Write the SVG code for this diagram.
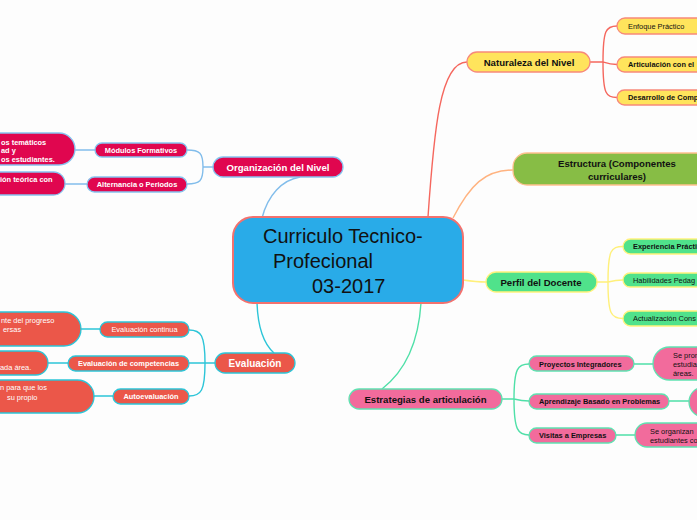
<svg xmlns="http://www.w3.org/2000/svg" width="697" height="520" viewBox="0 0 697 520">
<style>
text{font-family:"Liberation Sans",Arial,sans-serif;}
.c{fill:none;stroke-width:1.4;}
.b{font-weight:bold;}
.m{text-anchor:middle;}
.s7{font-size:7.4px;}
.s9{font-size:9.6px;}
.w{fill:#ffffff;}
.k{fill:#111111;}
.org{fill:#e0064f;stroke:#86c3ef;stroke-width:1.3;}
.eva{fill:#eb5749;stroke:#2cc5d8;stroke-width:1.3;}
.nat{fill:#ffe45c;stroke:#f7897a;stroke-width:1.3;}
.est{fill:#87bd45;stroke:#ffc08f;stroke-width:1.3;}
.per{fill:#50e28b;stroke:#fff27c;stroke-width:1.3;}
.str{fill:#f26b9c;stroke:#5fe2b1;stroke-width:1.3;}
</style>
<rect width="697" height="520" fill="#fdfdfd"/>
<g id="connectors">
  <path class="c" stroke="#82bdeb" d="M262,218 C268,195 282,180 300,177"/>
  <path class="c" stroke="#82bdeb" d="M213,167 H203 M203,167 C203,153 200,150 187,150 M203,167 C203,181 200,184 187,184 M75,150 H95 M65,184 H87"/>
  <path class="c" stroke="#2cc5d8" d="M257,303 C258,330 265,345 274,353"/>
  <path class="c" stroke="#2cc5d8" d="M215,363 H189 M205,363 C205,335 201,330 189,330 M205,363 C205,391 201,396 189,396 M81,329 H100 M48,363 H68 M94,396 H113"/>
  <path class="c" stroke="#f5675e" d="M428,217 C434,130 440,62 467,62"/>
  <path class="c" stroke="#f5675e" d="M590,62 H603 M603,62 C603,30 606,26 617,26 M603,62 C606,63 610,64.5 617,64.5 M603,62 C603,94 606,97.5 617,97.5"/>
  <path class="c" stroke="#ffb380" d="M453,218 C470,185 485,170 513,170"/>
  <path class="c" stroke="#fff07a" d="M463,280 C470,281 478,282 486,282"/>
  <path class="c" stroke="#fff07a" d="M597,282 H608 M608,282 C608,250 611,246.5 623,246.5 M608,282 C612,281 617,280 623,280 M608,282 C608,314 611,318.5 623,318.5"/>
  <path class="c" stroke="#4fe0a8" d="M421,303 C418,350 400,375 382,389"/>
  <path class="c" stroke="#4fe0a8" d="M502,399 H514 M514,399 C514,368 518,364 529,364 M514,399 C518,400 523,401 529,401 M514,399 C514,430 518,435 529,435 M634,364 H653 M669,401 H689 M616,435 H635"/>
</g>
<g id="central">
  <rect x="233" y="217" width="230" height="86" rx="20" fill="#29abe8" stroke="#f3716e" stroke-width="2"/>
  <text x="263" y="243" font-size="20" class="k">Curriculo Tecnico-</text>
  <text x="273" y="268" font-size="20" class="k">Profecional</text>
  <text x="312" y="293" font-size="20" class="k">03-2017</text>
</g>
<g id="organizacion">
  <rect class="org" x="213" y="157" width="130" height="20" rx="10"/>
  <text class="w b m s9" x="278" y="170.5">Organización del Nivel</text>
</g>
<g id="modulos">
  <rect class="org" x="95" y="143" width="92" height="14" rx="7"/>
  <text class="w b m s7" x="141" y="152.5">Módulos Formativos</text>
</g>
<g id="alternancia">
  <rect class="org" x="87" y="177" width="100" height="15" rx="7.5"/>
  <text class="w b m s7" x="137" y="187">Alternancia o Periodos</text>
</g>
<g id="modulos-detalle">
  <rect class="org" x="-40" y="133" width="115" height="32" rx="16"/>
  <text class="w b s7" x="1" y="144.5">os temáticos</text>
  <text class="w b s7" x="1" y="153">ad y</text>
  <text class="w b s7" x="1" y="161.5">os estudiantes.</text>
</g>
<g id="alternancia-detalle">
  <rect class="org" x="-40" y="172" width="105" height="23" rx="11.5"/>
  <text class="w b s7" x="0" y="181.5">ión teórica con</text>
</g>
<g id="evaluacion">
  <rect class="eva" x="215" y="353" width="80" height="20" rx="10"/>
  <text class="w b m" font-size="10" x="255" y="366.5">Evaluación</text>
</g>
<g id="continua">
  <rect class="eva" x="100" y="322" width="89" height="15" rx="7.5"/>
  <text class="w m s7" x="144.5" y="332">Evaluación continua</text>
</g>
<g id="competencias">
  <rect class="eva" x="68" y="356" width="121" height="15" rx="7.5"/>
  <text class="w b m s7" x="128.5" y="366">Evaluación de competencias</text>
</g>
<g id="autoevaluacion">
  <rect class="eva" x="113" y="389" width="76" height="15" rx="7.5"/>
  <text class="w b m s7" x="151" y="399">Autoevaluación</text>
</g>
<g id="continua-detalle">
  <rect class="eva" x="-40" y="312" width="121" height="34" rx="17"/>
  <text class="w s7" x="1" y="322.5">nte del progreso</text>
  <text class="w s7" x="3" y="331.5">ersas</text>
</g>
<g id="competencias-detalle">
  <rect class="eva" x="-40" y="351" width="88" height="24" rx="12"/>
  <text class="w s7" x="0" y="369.5">ada área.</text>
</g>
<g id="autoevaluacion-detalle">
  <rect class="eva" x="-40" y="380" width="134" height="33" rx="16.5"/>
  <text class="w s7" x="0" y="390">n para que los</text>
  <text class="w s7" x="7" y="399.5">su propio</text>
</g>
<g id="naturaleza">
  <rect class="nat" x="467" y="52" width="123" height="20" rx="10"/>
  <text class="k b m s9" x="529" y="65.5">Naturaleza del Nivel</text>
</g>
<g id="enfoque">
  <rect class="nat" x="617" y="18" width="100" height="16" rx="8"/>
  <text class="k s7" x="628" y="28.5">Enfoque Práctico</text>
</g>
<g id="articulacion">
  <rect class="nat" x="617" y="57" width="100" height="15" rx="7.5"/>
  <text class="k b s7" x="628" y="67">Articulación con el</text>
</g>
<g id="desarrollo">
  <rect class="nat" x="617" y="90" width="100" height="15" rx="7.5"/>
  <text class="k b s7" x="628" y="100">Desarrollo de Comp</text>
</g>
<g id="estructura">
  <rect class="est" x="513" y="153" width="210" height="32" rx="14"/>
  <text class="k b m s9" x="617" y="167">Estructura (Componentes</text>
  <text class="k b m s9" x="617" y="179.5">curriculares)</text>
</g>
<g id="perfil">
  <rect class="per" x="486" y="272" width="111" height="20" rx="10"/>
  <text class="k b m s9" x="541" y="285.5">Perfil del Docente</text>
</g>
<g id="experiencia">
  <rect class="per" x="623" y="239" width="100" height="15" rx="7.5"/>
  <text class="k b s7" x="633" y="249">Experiencia Prácti</text>
</g>
<g id="habilidades">
  <rect class="per" x="623" y="273" width="100" height="14" rx="7"/>
  <text class="k s7" x="633" y="282.5">Habilidades Pedag</text>
</g>
<g id="actualizacion">
  <rect class="per" x="623" y="311" width="100" height="15" rx="7.5"/>
  <text class="k s7" x="633" y="321">Actualización Cons</text>
</g>
<g id="estrategias">
  <rect class="str" x="349" y="389" width="153" height="20" rx="10"/>
  <text class="k b m s9" x="425.5" y="402.5">Estrategias de articulación</text>
</g>
<g id="proyectos">
  <rect class="str" x="529" y="356" width="105" height="15" rx="7.5"/>
  <text class="k b s7" x="539" y="366.5">Proyectos Integradores</text>
</g>
<g id="aprendizaje">
  <rect class="str" x="529" y="394" width="140" height="15" rx="7.5"/>
  <text class="k b s7" x="539" y="404">Aprendizaje Basado en Problemas</text>
</g>
<g id="visitas">
  <rect class="str" x="529" y="428" width="87" height="15" rx="7.5"/>
  <text class="k b s7" x="539" y="438">Visitas a Empresas</text>
</g>
<g id="proyectos-detalle">
  <rect class="str" x="653" y="347" width="80" height="33" rx="16.5"/>
  <text class="k s7" x="673" y="358">Se prom</text>
  <text class="k s7" x="673" y="367">estudia</text>
  <text class="k s7" x="673" y="375.5">áreas.</text>
</g>
<g id="aprendizaje-detalle">
  <rect class="str" x="689" y="387" width="60" height="30" rx="15"/>
</g>
<g id="visitas-detalle">
  <rect class="str" x="635" y="423" width="90" height="24" rx="12"/>
  <text class="k s7" x="650" y="433.5">Se organizan</text>
  <text class="k s7" x="650" y="442.5">estudiantes co</text>
</g>
</svg>
